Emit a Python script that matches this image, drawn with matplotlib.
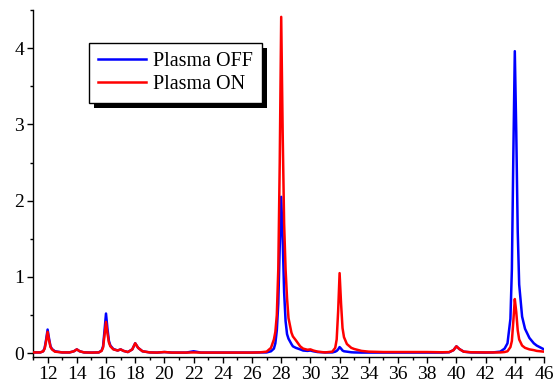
import matplotlib
matplotlib.use("Agg")
import matplotlib.pyplot as plt
from matplotlib.patches import Rectangle
from matplotlib.ticker import MultipleLocator

plt.rcParams['font.family'] = ['Liberation Serif', 'DejaVu Serif']

mass = [11.0, 11.5, 11.7, 11.8, 11.9, 12.0, 12.1, 12.2, 12.3, 12.5,
        13.0, 13.5, 13.8, 14.0, 14.2, 14.5, 15.0, 15.5, 15.7, 15.8,
        15.9, 16.0, 16.1, 16.2, 16.3, 16.5, 16.8, 17.0, 17.2, 17.5,
        17.8, 18.0, 18.2, 18.5, 19.0, 19.5, 20.0, 20.5, 21.0, 21.5,
        22.0, 22.5, 23.0, 24.0, 25.0, 26.0, 26.5, 27.0, 27.3, 27.5,
        27.6, 27.7, 27.8, 27.9, 28.0, 28.1, 28.2, 28.3, 28.4, 28.5,
        28.7, 28.8, 29.0, 29.3, 29.5, 29.8, 30.0, 30.2, 30.5, 31.0,
        31.5, 31.7, 31.8, 31.9, 32.0, 32.1, 32.2, 32.3, 32.5, 32.8,
        33.0, 33.5, 34.0, 35.0, 36.0, 37.0, 38.0, 39.0, 39.5, 39.8,
        40.0, 40.2, 40.5, 41.0, 42.0, 42.5, 43.0, 43.3, 43.5, 43.7,
        43.8, 43.9, 44.0, 44.1, 44.2, 44.3, 44.5, 44.7, 45.0, 45.3,
        45.5, 46.0]

plasma_off = [0.010, 0.010, 0.025, 0.070, 0.180, 0.310, 0.190, 0.090, 0.055, 0.025,
              0.010, 0.010, 0.025, 0.050, 0.025, 0.010, 0.008, 0.010, 0.035, 0.090,
              0.300, 0.520, 0.320, 0.160, 0.100, 0.055, 0.035, 0.050, 0.030, 0.015,
              0.050, 0.130, 0.070, 0.025, 0.010, 0.008, 0.015, 0.008, 0.008, 0.008,
              0.025, 0.008, 0.008, 0.008, 0.008, 0.008, 0.010, 0.010, 0.025, 0.060,
              0.130, 0.300, 0.650, 1.400, 2.050, 1.500, 0.800, 0.420, 0.250, 0.190,
              0.120, 0.090, 0.070, 0.050, 0.035, 0.030, 0.035, 0.025, 0.015, 0.010,
              0.010, 0.020, 0.030, 0.050, 0.080, 0.060, 0.035, 0.025, 0.020, 0.012,
              0.010, 0.008, 0.008, 0.008, 0.008, 0.008, 0.008, 0.008, 0.012, 0.040,
              0.090, 0.055, 0.020, 0.010, 0.008, 0.010, 0.020, 0.060, 0.130, 0.450,
              1.100, 2.600, 3.960, 2.900, 1.600, 0.900, 0.480, 0.320, 0.200, 0.130,
              0.100, 0.050]

plasma_on = [0.010, 0.010, 0.025, 0.060, 0.160, 0.280, 0.170, 0.080, 0.050, 0.020,
             0.010, 0.010, 0.025, 0.050, 0.025, 0.010, 0.008, 0.010, 0.030, 0.075,
             0.240, 0.410, 0.260, 0.140, 0.090, 0.050, 0.035, 0.050, 0.030, 0.015,
             0.050, 0.130, 0.070, 0.025, 0.010, 0.008, 0.015, 0.008, 0.008, 0.008,
             0.010, 0.008, 0.008, 0.008, 0.008, 0.008, 0.010, 0.020, 0.070, 0.180,
             0.280, 0.500, 1.100, 2.500, 4.410, 2.900, 1.700, 1.100, 0.720, 0.460,
             0.270, 0.220, 0.170, 0.090, 0.060, 0.045, 0.050, 0.035, 0.020, 0.010,
             0.020, 0.070, 0.180, 0.550, 1.050, 0.650, 0.330, 0.210, 0.120, 0.070,
             0.055, 0.030, 0.020, 0.015, 0.015, 0.015, 0.015, 0.012, 0.014, 0.040,
             0.090, 0.055, 0.020, 0.012, 0.010, 0.010, 0.010, 0.015, 0.025, 0.080,
             0.160, 0.420, 0.710, 0.540, 0.300, 0.180, 0.100, 0.070, 0.050, 0.040,
             0.030, 0.020]

x_ticks = [12, 14, 16, 18, 20, 22, 24, 26, 28, 30, 32, 34, 36, 38, 40, 42, 44, 46]
y_ticks = [0, 1, 2, 3, 4]

fig = plt.figure(figsize=(5.55, 3.89), dpi=100)
ax = fig.add_axes([33 / 555, 32 / 389, (544 - 33) / 555, (357 - 10) / 389])

ax.plot(mass, plasma_off, color='#0000ff', lw=1.8, label='Plasma OFF', zorder=2)
ax.plot(mass, plasma_on, color='#ff0000', lw=1.8, label='Plasma ON', zorder=3)

ax.set_xlim(11, 46)
ax.set_ylim(-0.05, 4.5)
ax.set_xticks(x_ticks)
ax.set_yticks(y_ticks)
ax.xaxis.set_minor_locator(MultipleLocator(1))
ax.yaxis.set_minor_locator(MultipleLocator(0.5))
ax.tick_params(which='major', direction='out', length=4.5, width=1, labelsize=14, pad=2)
ax.tick_params(which='minor', direction='out', length=2.5, width=1)
ax.spines['top'].set_visible(False)
ax.spines['right'].set_visible(False)
for s in ('left', 'bottom'):
    ax.spines[s].set_linewidth(1)

leg = ax.legend(loc='upper left', bbox_to_anchor=((89 - 33) / 511, (357 - 43) / 347),
                fancybox=False, framealpha=1, edgecolor='black', fontsize=14.5,
                handlelength=2.4, handletextpad=0.35, borderpad=0.45, labelspacing=0.2,
                borderaxespad=0)
leg.get_frame().set_linewidth(1)
leg.set_zorder(6)

fig.canvas.draw()
bb = leg.get_window_extent()
shadow = Rectangle((bb.x0 + 5, bb.y0 - 5), bb.width, bb.height, transform=None,
                   facecolor='black', edgecolor='none', zorder=5.5)
ax.add_artist(shadow)

fig.savefig('out.png', dpi=100)
